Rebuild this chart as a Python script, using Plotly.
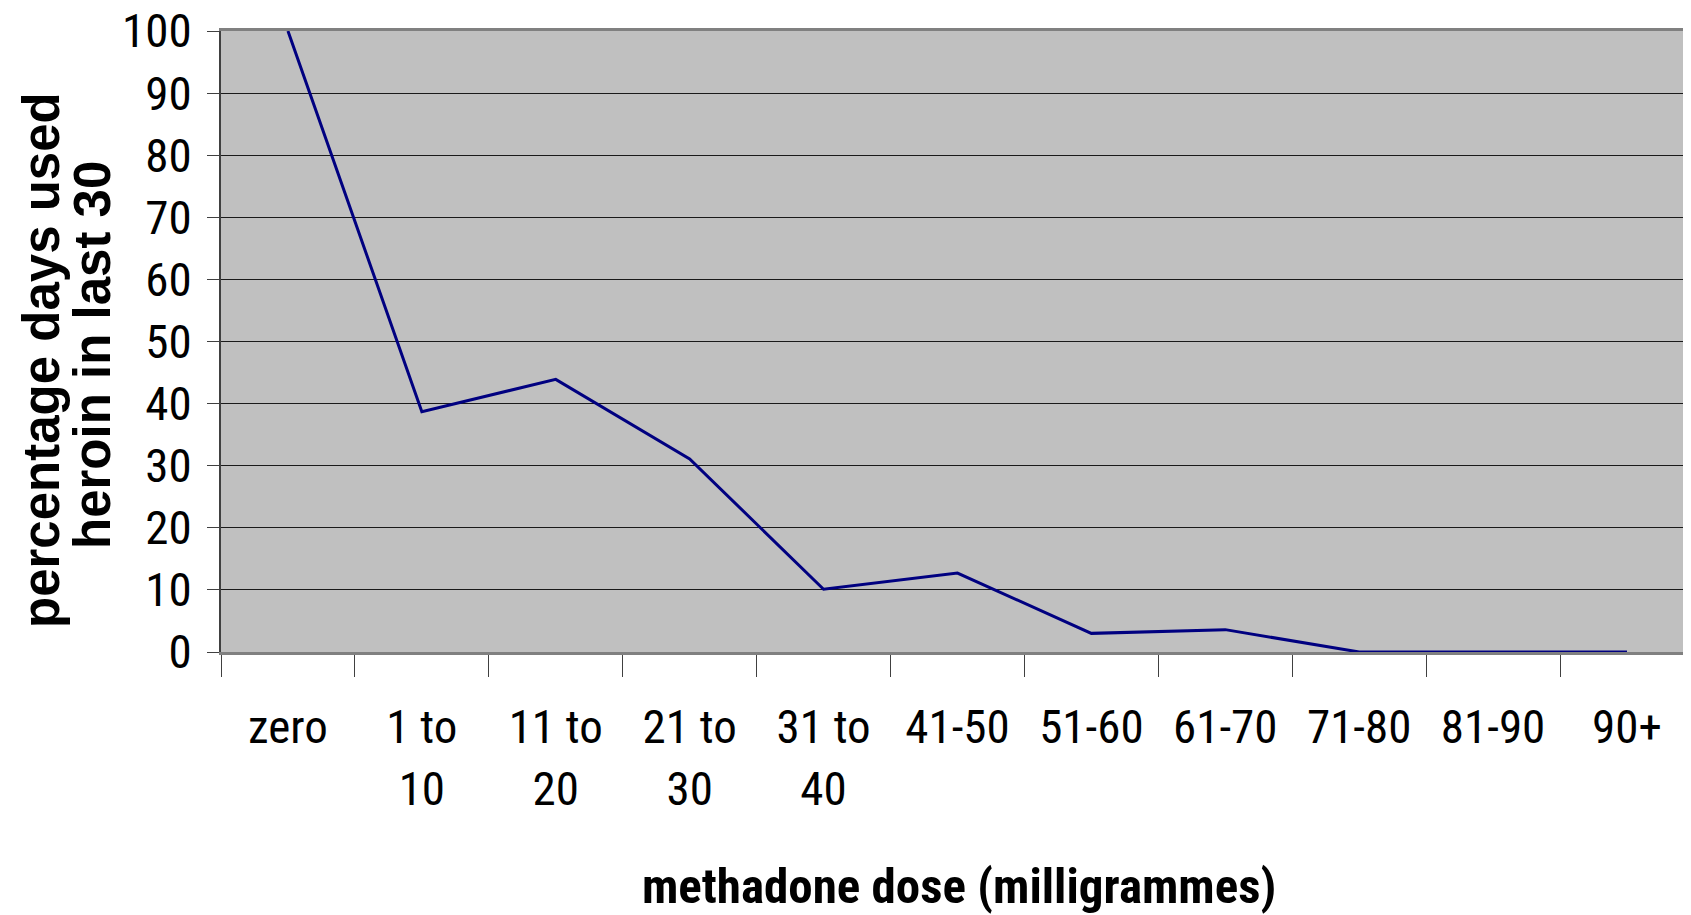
import plotly.graph_objects as go

categories = ["zero", "1 to 10", "11 to 20", "21 to 30", "31 to 40", "41-50",
              "51-60", "61-70", "71-80", "81-90", "90+"]
tick_labels = ["zero", "1 to<br>10", "11 to<br>20", "21 to<br>30", "31 to<br>40", "41-50",
               "51-60", "61-70", "71-80", "81-90", "90+"]
heroin_pct = [100, 38.7, 43.9, 31.1, 10.1, 12.7, 3.0, 3.6, 0, 0, 0]
y_ticks = [0, 10, 20, 30, 40, 50, 60, 70, 80, 90, 100]

NARROW = "Liberation Sans Narrow, Arial Narrow, Roboto Condensed, DejaVu Sans Condensed, sans-serif"
BOLD = "Liberation Sans, Arial, sans-serif"

# page body has an 8px default margin; size the figure so it fills the window
OFF = 8
W, H = 1691 - OFF, 915 - OFF
L, T, B, R = 221 - OFF, 31 - OFF, 263, 0
PW, PH = W - L - R, H - T - B


def px_x(px):
    return (px - OFF - L) / PW


def px_y(py):
    return (H - B + OFF - py) / PH


fig = go.Figure()
fig.add_trace(go.Scatter(
    x=categories, y=heroin_pct, mode="lines",
    line=dict(color="#000080", width=3),
    showlegend=False, hoverinfo="x+y",
))

fig.update_layout(
    width=W, height=H,
    margin=dict(l=L, r=R, t=T, b=B),
    paper_bgcolor="white",
    plot_bgcolor="#C0C0C0",
    xaxis=dict(
        type="category",
        categoryorder="array", categoryarray=categories,
        tickvals=categories, ticktext=tick_labels,
        range=[-0.5, 10.478],
        tickson="boundaries",
        ticks="outside", ticklen=22, tickwidth=1, tickcolor="#404040",
        showgrid=False,
        showline=True, linecolor="#808080", linewidth=3, mirror=True,
        tickfont=dict(family=NARROW, size=47, color="black"),
        ticklabelstandoff=32,
        automargin=False,
        zeroline=False,
    ),
    yaxis=dict(
        range=[0, 100],
        tickvals=y_ticks,
        ticks="outside", ticklen=12, tickwidth=1, tickcolor="#404040",
        showgrid=True, gridcolor="#1a1a1a", gridwidth=1.2,
        showline=True, linecolor="#404040", linewidth=2,
        zeroline=False,
        tickfont=dict(family=NARROW, size=47, color="black"),
        ticklabelstandoff=6,
        ticklabeloverflow="allow",
        automargin=False,
    ),
    annotations=[
        dict(text="<b>percentage days used</b>", textangle=-90,
             xref="paper", yref="paper",
             x=px_x(41), y=px_y(360),
             xanchor="center", yanchor="middle", showarrow=False,
             font=dict(family=BOLD, size=51, color="black")),
        dict(text="<b>heroin in last 30</b>", textangle=-90,
             xref="paper", yref="paper",
             x=px_x(92), y=px_y(355),
             xanchor="center", yanchor="middle", showarrow=False,
             font=dict(family=BOLD, size=51, color="black")),
        dict(text="<b>methadone dose (milligrammes)</b>",
             xref="paper", yref="paper",
             x=px_x(959), y=px_y(887),
             xanchor="center", yanchor="middle", showarrow=False,
             font=dict(family=NARROW, size=49, color="black")),
    ],
)

fig.write_html("out.html")
